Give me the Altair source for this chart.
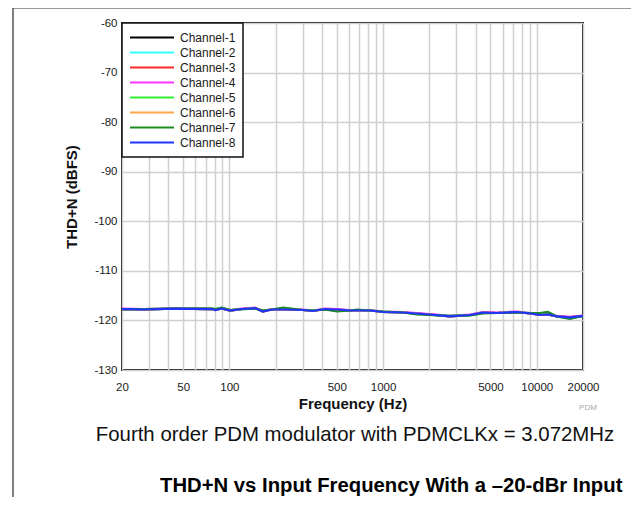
import altair as alt
import pandas as pd

# ---------------- data ----------------
freq = [20, 28, 44, 77, 81, 89, 101, 121, 147, 165, 189, 223, 301, 350, 418, 501,
        609, 676, 821, 998, 1346, 1661, 2018, 2723, 3674, 4464, 5506, 7429, 9027,
        10484, 11818, 13525, 16432, 20000]

channels = ["Channel-1", "Channel-2", "Channel-3", "Channel-4",
            "Channel-5", "Channel-6", "Channel-7", "Channel-8"]
colors = ["#000000", "#33ffff", "#ff2a2a", "#ff33ff",
          "#33ee33", "#ffa64d", "#1f8a1f", "#2233ff"]

ch1 = [-117.7, -117.8, -117.6, -117.7, -117.8, -117.6, -118.0, -117.7, -117.5, -118.1, -117.8, -117.8,
       -117.9, -118.1, -117.7, -117.9, -118.0, -118.0, -118.0, -118.3, -118.4, -118.6, -118.8, -119.2,
       -118.9, -118.4, -118.5, -118.3, -118.6, -118.8, -118.8, -119.2, -119.4, -119.1]
ch2 = [-117.7, -117.8, -117.6, -117.7, -117.9, -117.6, -118.0, -117.7, -117.5, -118.2, -117.8, -117.8,
       -117.9, -118.1, -117.7, -117.8, -118.0, -118.0, -118.0, -118.3, -118.4, -118.6, -118.8, -119.2,
       -118.9, -118.4, -118.5, -118.3, -118.6, -118.9, -118.8, -119.2, -119.4, -119.1]
ch3 = [-117.7, -117.8, -117.6, -117.7, -117.9, -117.6, -118.0, -117.7, -117.5, -118.2, -117.8, -117.8,
       -117.9, -118.1, -117.7, -117.8, -118.0, -118.0, -118.0, -118.3, -118.4, -118.6, -118.8, -119.2,
       -118.9, -118.4, -118.5, -118.3, -118.6, -118.9, -118.8, -119.2, -119.4, -119.1]
ch4 = [-117.6, -117.7, -117.5, -117.6, -117.8, -117.5, -117.9, -117.6, -117.4, -118.1, -117.7, -117.7,
       -117.8, -118.0, -117.6, -117.7, -117.9, -117.9, -117.9, -118.2, -118.3, -118.5, -118.7, -119.1,
       -118.8, -118.3, -118.4, -118.2, -118.5, -118.8, -118.7, -119.1, -119.3, -119.0]
ch5 = [-117.7, -117.7, -117.6, -117.6, -117.7, -117.5, -117.9, -117.7, -117.6, -118.0, -117.8, -117.5,
       -117.9, -118.0, -117.8, -118.1, -118.0, -117.9, -118.0, -118.2, -118.4, -118.7, -118.9, -119.1,
       -119.0, -118.5, -118.5, -118.4, -118.5, -118.6, -118.5, -119.2, -119.6, -119.1]
ch6 = [-117.7, -117.8, -117.6, -117.7, -117.8, -117.6, -118.0, -117.7, -117.5, -118.1, -117.8, -117.8,
       -117.9, -118.1, -117.7, -117.9, -118.0, -118.0, -118.0, -118.3, -118.4, -118.6, -118.8, -119.2,
       -118.9, -118.4, -118.5, -118.3, -118.6, -118.8, -118.8, -119.2, -119.4, -119.1]
ch7 = [-117.7, -117.7, -117.6, -117.6, -117.7, -117.4, -117.9, -117.7, -117.6, -118.0, -117.8, -117.4,
       -117.9, -118.0, -117.8, -118.2, -118.0, -117.8, -118.0, -118.2, -118.4, -118.8, -118.9, -119.1,
       -119.0, -118.6, -118.5, -118.4, -118.5, -118.5, -118.3, -119.2, -119.7, -119.1]
ch8 = [-117.7, -117.8, -117.6, -117.7, -117.9, -117.6, -118.0, -117.7, -117.5, -118.2, -117.8, -117.8,
       -117.9, -118.1, -117.7, -117.8, -118.0, -118.0, -118.0, -118.3, -118.4, -118.6, -118.8, -119.2,
       -118.9, -118.4, -118.5, -118.3, -118.6, -118.9, -118.8, -119.2, -119.4, -119.1]

x_grid = [20, 30, 40, 50, 60, 70, 80, 90, 100, 200, 300, 400, 500, 600, 700, 800, 900,
          1000, 2000, 3000, 4000, 5000, 6000, 7000, 8000, 9000, 10000, 20000]
x_labels = [20, 50, 100, 500, 1000, 5000, 10000, 20000]
y_ticks = [-60, -70, -80, -90, -100, -110, -120, -130]

caption = "Fourth order PDM modulator with PDMCLKx = 3.072MHz"
heading = "THD+N vs Input Frequency With a \u201320-dBr Input"
tag = "PDM"

# ---------------- table ----------------
series = [ch1, ch2, ch3, ch4, ch5, ch6, ch7, ch8]
rows = []
for name, vals in zip(channels, series):
    for f, v in zip(freq, vals):
        rows.append({"freq": f, "thdn": v, "channel": name})
df = pd.DataFrame(rows)

FONT = "Liberation Sans"
label_list = ",".join(str(v) for v in x_labels)

lines = alt.Chart(df).mark_line(strokeWidth=2.2, clip=True).encode(
    x=alt.X("freq:Q",
            scale=alt.Scale(type="log", domain=[20, 20000], nice=False),
            axis=alt.Axis(values=x_grid,
                          labelExpr=f"indexof([{label_list}], datum.value) >= 0 ? '' + datum.value : ''",
                          title="Frequency (Hz)", grid=True, gridColor="#d0d0d0", gridWidth=1.5,
                          ticks=False, domain=False, labelPadding=11, labelFontSize=11.5,
                          labelColor="#1a1a1a", labelFlush=False, labelOverlap=False,
                          titleFontSize=15, titleFontWeight="bold", titleColor="#111",
                          titlePadding=4)),
    y=alt.Y("thdn:Q",
            scale=alt.Scale(domain=[-130, -60], nice=False, zero=False),
            axis=alt.Axis(values=y_ticks, labelExpr="'' + datum.value",
                          title="THD+N (dBFS)", grid=True, gridColor="#d0d0d0", gridWidth=1.5,
                          ticks=False, domain=False, labelPadding=5, labelFontSize=11.5,
                          labelColor="#1a1a1a", titleFontSize=15, titleFontWeight="bold",
                          titleColor="#111", titlePadding=14)),
    color=alt.Color("channel:N",
                    scale=alt.Scale(domain=channels, range=colors),
                    legend=alt.Legend(title=None, orient="top-left", offset=0,
                                      symbolType="stroke", symbolSize=1936,
                                      symbolStrokeWidth=2, clipHeight=15, rowPadding=0,
                                      padding=7, labelOffset=5, labelFontSize=12,
                                      labelColor="#1a1a1a", strokeColor="#111",
                                      fillColor="white")),
)

def text_layer(txt, x, y, **kw):
    return alt.Chart(pd.DataFrame({"t": [txt]})).mark_text(font=FONT, **kw).encode(
        x=alt.value(x), y=alt.value(y), text="t:N")

cap = text_layer(caption, 233, 412, fontSize=20.4, color="#111", align="center", baseline="middle")
head = text_layer(heading, 38, 463, fontSize=20.3, fontWeight="bold", color="#000",
                  align="left", baseline="middle")
pdm = text_layer(tag, 466, 385, fontSize=8, color="#aaaaaa", align="center", baseline="middle")

frame_df = pd.DataFrame({"a": [0]})
top_rule = alt.Chart(frame_df).mark_rule(color="#999999", strokeWidth=3).encode(
    x=alt.value(-109), x2=alt.value(520), y=alt.value(-15.5))
left_rule = alt.Chart(frame_df).mark_rule(color="#555555", strokeWidth=1.5).encode(
    x=alt.value(-109), y=alt.value(-15), y2=alt.value(490))

chart = alt.layer(top_rule, left_rule, lines, cap, head, pdm).properties(
    width=461, height=347,
    padding={"left": 114, "top": 15, "right": 48, "bottom": 127},
    autosize=alt.AutoSizeParams(type="none"),
    usermeta={"embedOptions": {"defaultStyle": ".vega-embed{display:block}.vega-embed svg{display:block}"}},
).configure(font=FONT).configure_view(stroke="#111", strokeWidth=2).configure_legend(strokeWidth=1.5)

chart.save("out.html", embed_options={"renderer": "svg", "actions": False})
